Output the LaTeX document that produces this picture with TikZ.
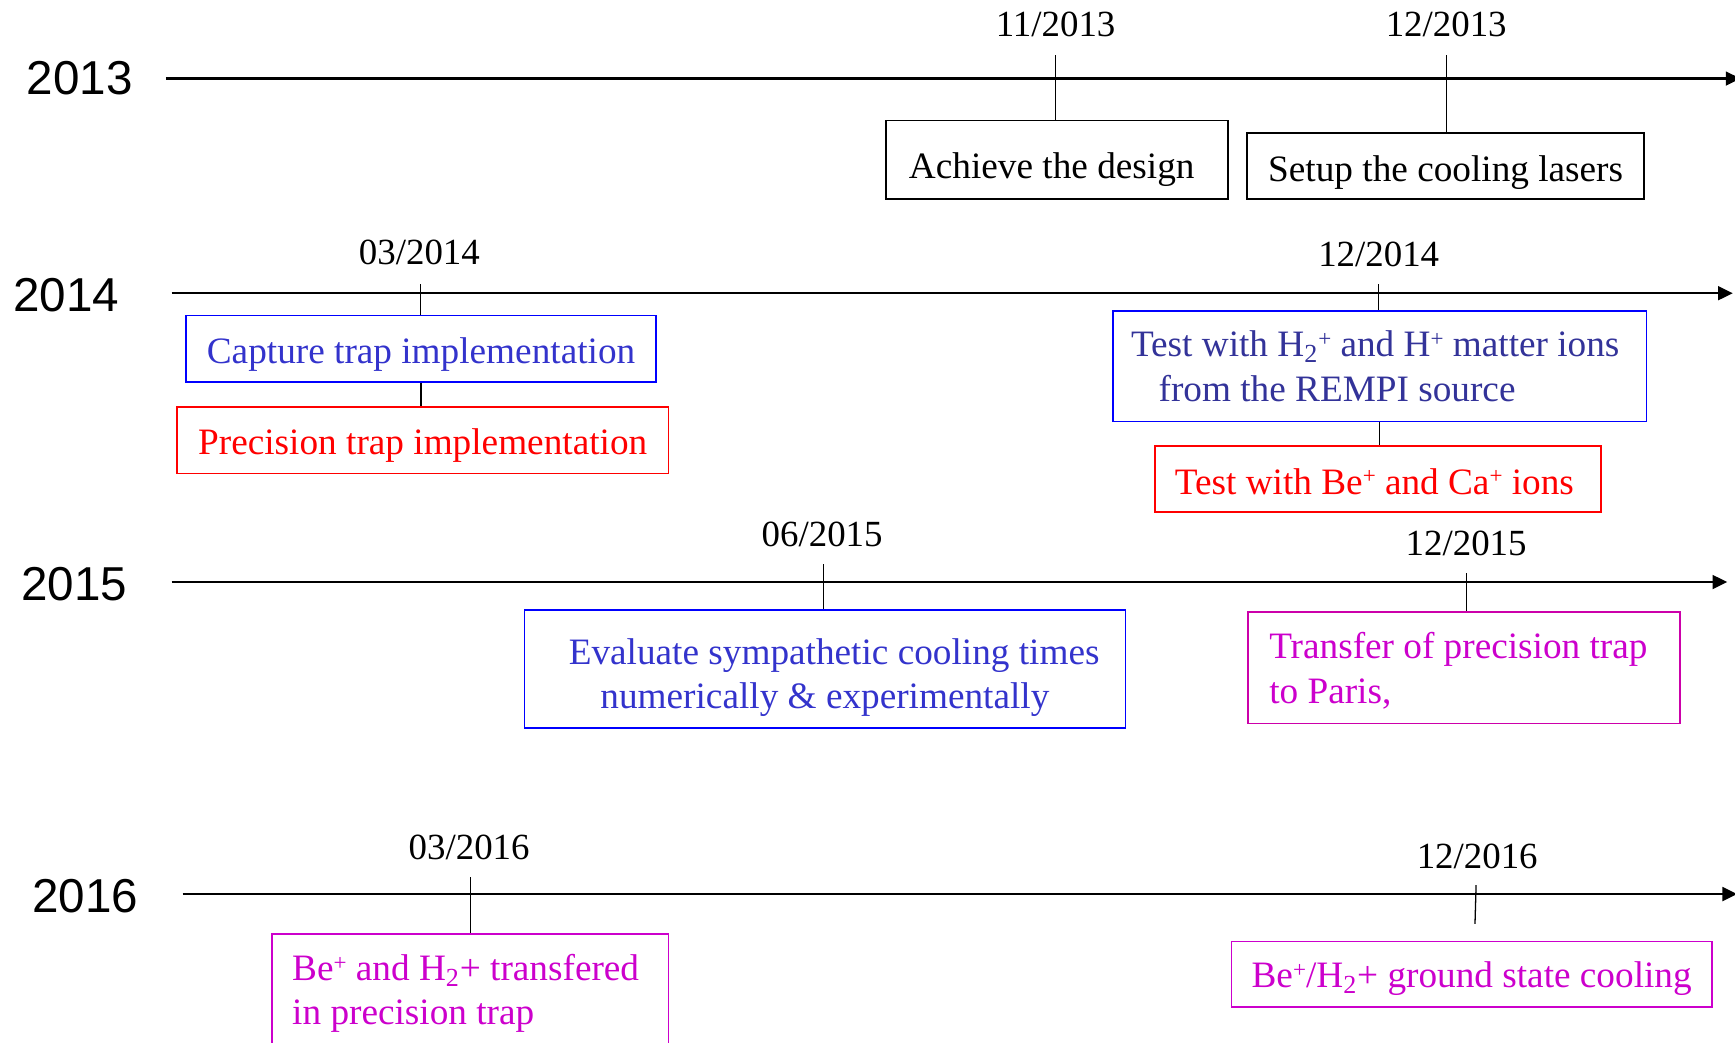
\documentclass[tikz,border=0pt]{standalone}
\usepackage{fontspec}
\setmainfont{Liberation Serif}
\newfontfamily\yearfont{Liberation Sans}
\usetikzlibrary{arrows.meta}
\definecolor{bline}{RGB}{0,0,255}
\definecolor{btext}{RGB}{51,51,204}
\definecolor{ntext}{RGB}{51,51,153}
\definecolor{rline}{RGB}{255,0,0}
\definecolor{mtext}{RGB}{204,0,204}
\definecolor{mline}{RGB}{204,0,170}
\newcommand\plussup{\raisebox{0.28em}{\fontsize{12.5}{12.5}\selectfont +}}
\newcommand\subtwo{\textsubscript{2}}
\newcommand\lowtext[2]{\raisebox{-#1}[\height][\depth]{#2}}
\begin{document}
\begin{tikzpicture}[x=0.6pt,y=-0.6pt,
  axis/.style={line width=1.2pt,-{Triangle[length=8pt,width=7.5pt]}},
  tickline/.style={line width=0.7pt},
  year/.style={font=\yearfont\fontsize{25.8}{30}\selectfont, inner sep=0pt},
  date/.style={font=\fontsize{20}{24}\selectfont, inner sep=0pt},
  box/.style={draw, line width=0.9pt, inner sep=0pt, align=left,
    font=\fontsize{20.2}{24}\selectfont},
]
\clip (0,0) rectangle (1568,942);

% years
\node[year] (y13) at (72,71) {2013};
\node[year] (y14) at (60,267) {2014};
\node[year] (y15) at (67,528) {2015};
\node[year] (y16) at (77,810) {2016};

% axes
\coordinate (a13s) at (150,71);  \coordinate (a13e) at (1573,71);
\coordinate (a14s) at (155,265); \coordinate (a14e) at (1566,265);
\coordinate (a15s) at (155,526); \coordinate (a15e) at (1561,526);
\coordinate (a16s) at (165,808); \coordinate (a16e) at (1570,808);
\draw[axis] (a13s) -- (a13e);
\draw[axis] (a14s) -- (a14e);
\draw[axis] (a15s) -- (a15e);
\draw[axis] (a16s) -- (a16e);

% dates
\node[date] (d1) at (954,22) {11/2013};
\node[date] (d2) at (1307,22) {12/2013};
\node[date] (d3) at (379,228) {03/2014};
\node[date] (d4) at (1246,230) {12/2014};
\node[date] (d5) at (743,483) {06/2015};
\node[date] (d6) at (1325,491) {12/2015};
\node[date] (d7) at (424,766) {03/2016};
\node[date] (d8) at (1335,774) {12/2016};

% boxes
\node[box, minimum width=309*0.6pt, minimum height=71*0.6pt] (design) at (955.5,144.5)
  {\lowtext{5.4pt}{\hspace*{-6pt}Achieve the design}};
\node[box, minimum width=359*0.6pt, minimum height=60*0.6pt] (lasers) at (1306.5,150)
  {\lowtext{3.6pt}{Setup the cooling lasers}};
\node[box, draw=bline, text=btext, minimum width=425*0.6pt, minimum height=60*0.6pt] (capture) at (380.5,315)
  {\lowtext{3pt}{Capture trap implementation}};
\node[box, draw=rline, text=rline, minimum width=444*0.6pt, minimum height=60*0.6pt] (precision) at (382,398)
  {\lowtext{3pt}{Precision trap implementation}};
\node[box, draw=bline, text=ntext, minimum width=482*0.6pt, minimum height=100*0.6pt] (testH) at (1247,331)
  {\hspace*{-5pt}Test with H\subtwo\plussup{} and H\plussup{} matter ions\\\hspace*{10pt}from the REMPI source};
\node[box, draw=rline, text=rline, minimum width=403*0.6pt, minimum height=60*0.6pt] (testBe) at (1245.5,433)
  {\lowtext{1.2pt}{\hspace*{-4pt}Test with Be\plussup{} and Ca\plussup{} ions}};
\node[box, draw=bline, text=btext, minimum width=543*0.6pt, minimum height=107*0.6pt] (evaluate) at (745.5,604.5)
  {\lowtext{4.8pt}{\begin{tabular}{@{}c@{}}\hspace*{10pt}Evaluate sympathetic cooling times\\numerically \& experimentally\end{tabular}}};
\node[box, draw=mline, text=mtext, minimum width=390*0.6pt, minimum height=101*0.6pt] (transfer) at (1323,603.5)
  {\lowtext{2.4pt}{\begin{tabular}{@{}l@{}}Transfer of precision trap\\to Paris,\end{tabular}}\hspace*{6pt}};
\node[box, draw=mtext, text=mtext, minimum width=358*0.6pt, minimum height=108*0.6pt] (beH) at (425,898)
  {Be\plussup{} and H\subtwo+ transfered\hspace*{5pt}\\in precision trap};
\node[box, draw=mtext, text=mtext, minimum width=434*0.6pt, minimum height=59*0.6pt] (ground) at (1330,880.5)
  {\lowtext{2.4pt}{Be\plussup/H\subtwo+ ground state cooling}};

% ticks
\coordinate (t1) at (954,50);
\coordinate (t2) at (1307,50);
\coordinate (t3) at (380,257);
\coordinate (t4) at (1246,257);
\coordinate (t5) at (744,510);
\coordinate (t6) at (1325,518);
\coordinate (t7) at (425,793);
\coordinate (t8) at (1334,800);
\coordinate (t8b) at (1333,835);
\draw[tickline] (t1) -- (t1 |- design.north);
\draw[tickline] (t2) -- (t2 |- lasers.north);
\draw[tickline] (t3) -- (t3 |- capture.north);
\draw[tickline] (capture.south) -- (capture.south |- precision.north);
\draw[tickline] (t4) -- (t4 |- testH.north);
\draw[tickline] (testH.south) -- (testH.south |- testBe.north);
\draw[tickline] (t5) -- (t5 |- evaluate.north);
\draw[tickline] (t6) -- (t6 |- transfer.north);
\draw[tickline] (t7) -- (t7 |- beH.north);
\draw[tickline] (t8) -- (t8b);
\end{tikzpicture}
\end{document}
